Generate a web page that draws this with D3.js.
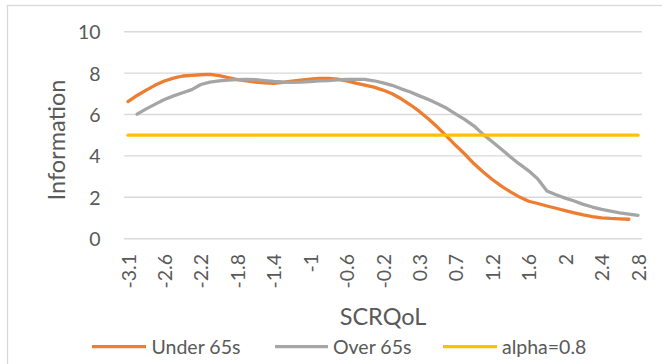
<!DOCTYPE html>
<html>
<head>
<meta charset="utf-8">
<script src="https://cdn.jsdelivr.net/npm/d3@7"></script>
<style>
  html, body { margin: 0; padding: 0; background: #fff; }
  svg { display: block; font-family: Lato, "Open Sans", sans-serif; }
</style>
</head>
<body>
<svg id="chart" width="662" height="364"></svg>
<script>
// SCRQoL category values along the x axis
const categories = [
  -3.1, -3, -2.9, -2.7, -2.6, -2.5, -2.4, -2.3, -2.2, -2.1, -2, -1.9, -1.8, -1.7, -1.6, -1.5,
  -1.4, -1.3, -1.2, -1.1, -1, -0.9, -0.8, -0.7, -0.6, -0.5, -0.4, -0.3, -0.2, -0.1, 0, 0.2,
  0.3, 0.4, 0.5, 0.6, 0.7, 0.8, 1, 1.1, 1.2, 1.3, 1.4, 1.5, 1.6, 1.7, 1.8, 1.9, 2, 2.1,
  2.2, 2.3, 2.4, 2.5, 2.6, 2.7, 2.8
];

// Test information, under 65s (no value at the last category)
const under65 = [
  6.62, 6.92, 7.18, 7.42, 7.62, 7.76, 7.86, 7.89, 7.92, 7.94, 7.88, 7.78, 7.69, 7.62, 7.56, 7.53,
  7.51, 7.55, 7.61, 7.66, 7.71, 7.75, 7.74, 7.71, 7.62, 7.52, 7.42, 7.32, 7.18, 7.00, 6.76, 6.47,
  6.15, 5.78, 5.38, 4.94, 4.50, 4.08, 3.62, 3.22, 2.86, 2.54, 2.26, 2.01, 1.81, 1.70, 1.58, 1.47,
  1.36, 1.25, 1.15, 1.07, 1.01, 0.98, 0.96, 0.94, null
];

// Test information, over 65s (no value at the first category)
const over65 = [
  null, 6.02, 6.27, 6.50, 6.72, 6.90, 7.05, 7.20, 7.45, 7.56, 7.62, 7.66, 7.68, 7.70, 7.68, 7.64,
  7.60, 7.57, 7.55, 7.56, 7.59, 7.62, 7.64, 7.67, 7.69, 7.70, 7.70, 7.63, 7.53, 7.41, 7.24, 7.09,
  6.90, 6.72, 6.52, 6.30, 6.02, 5.75, 5.44, 5.04, 4.68, 4.32, 3.95, 3.60, 3.28, 2.88, 2.30, 2.12,
  1.96, 1.82, 1.66, 1.53, 1.42, 1.33, 1.25, 1.19, 1.13
];

// Reliability threshold (information for alpha = 0.8)
const alphaLine = categories.map(() => 5);

const yTicks = [0, 2, 4, 6, 8, 10];
const legendLabels = ["Under 65s", "Over 65s", "alpha=0.8"];
const seriesColors = ["#ED7D31", "#A5A5A5", "#FFC000"];

const svg = d3.select("#chart");
const textColor = "#595959";

// chart area outline
svg.append("rect")
  .attr("x", 7.5).attr("y", 5.5)
  .attr("width", 700).attr("height", 400)
  .attr("fill", "none").attr("stroke", "#d9d9d9").attr("stroke-width", 1.3);

const plotLeft = 124, plotRight = 642;
const x = d3.scalePoint().domain(d3.range(categories.length)).range([128, 638]).padding(0);
const y = d3.scaleLinear().domain([0, 10]).range([238.7, 31.7]);

// horizontal gridlines
svg.append("g").selectAll("line").data(yTicks).join("line")
  .attr("x1", plotLeft).attr("x2", plotRight)
  .attr("y1", d => y(d)).attr("y2", d => y(d))
  .attr("stroke", "#d9d9d9").attr("stroke-width", 1.4);

// y axis labels
const yAxis = svg.append("g")
  .attr("transform", "translate(100.5,0)")
  .call(d3.axisLeft(y).tickValues(yTicks).tickSize(0).tickPadding(0).tickFormat(d3.format("d")));
yAxis.select(".domain").remove();
yAxis.selectAll("text")
  .attr("fill", textColor).attr("font-size", "19.5px").attr("font-family", "Lato, sans-serif")
  .attr("dy", "0.36em");

// x axis labels, every fourth category, rotated
const xAxis = svg.append("g")
  .attr("transform", "translate(0,254)")
  .call(d3.axisBottom(x)
    .tickValues(d3.range(0, categories.length, 4))
    .tickSize(0).tickPadding(0)
    .tickFormat(i => String(categories[i])));
xAxis.select(".domain").remove();
xAxis.selectAll("text")
  .attr("fill", textColor).attr("font-size", "19.5px").attr("font-family", "Lato, sans-serif")
  .attr("text-anchor", "end")
  .attr("transform", "rotate(-90)")
  .attr("x", 0).attr("y", 0).attr("dy", "0.36em");

// series lines
const line = d3.line()
  .defined(d => d.v !== null)
  .x(d => x(d.i)).y(d => y(d.v));

[under65, over65, alphaLine].forEach((vals, k) => {
  const pts = vals.map((v, i) => ({ i, v }));
  svg.append("path")
    .datum(pts)
    .attr("d", line)
    .attr("fill", "none")
    .attr("stroke", seriesColors[k])
    .attr("stroke-width", 3.3)
    .attr("stroke-linejoin", "round")
    .attr("stroke-linecap", "round");
});

// axis titles
svg.append("text")
  .attr("transform", "translate(65,140) rotate(-90)")
  .attr("text-anchor", "middle")
  .attr("fill", textColor).attr("font-size", "23.5px")
  .text("Information");

svg.append("text")
  .attr("x", 383).attr("y", 325)
  .attr("text-anchor", "middle")
  .attr("fill", textColor).attr("font-size", "23.5px")
  .text("SCRQoL");

// legend
const legendPos = [{ x0: 92, x1: 146, tx: 151.5 }, { x0: 275, x1: 328, tx: 333 }, { x0: 443, x1: 497, tx: 502 }];
const legendY = 346.7;
const lg = svg.append("g").selectAll("g").data(legendLabels).join("g");
lg.append("line")
  .attr("x1", (d, i) => legendPos[i].x0).attr("x2", (d, i) => legendPos[i].x1)
  .attr("y1", legendY).attr("y2", legendY)
  .attr("stroke", (d, i) => seriesColors[i]).attr("stroke-width", 3.3);
lg.append("text")
  .attr("x", (d, i) => legendPos[i].tx).attr("y", legendY).attr("dy", "0.36em")
  .attr("fill", textColor).attr("font-size", "19.5px")
  .text(d => d);
</script>
</body>
</html>
